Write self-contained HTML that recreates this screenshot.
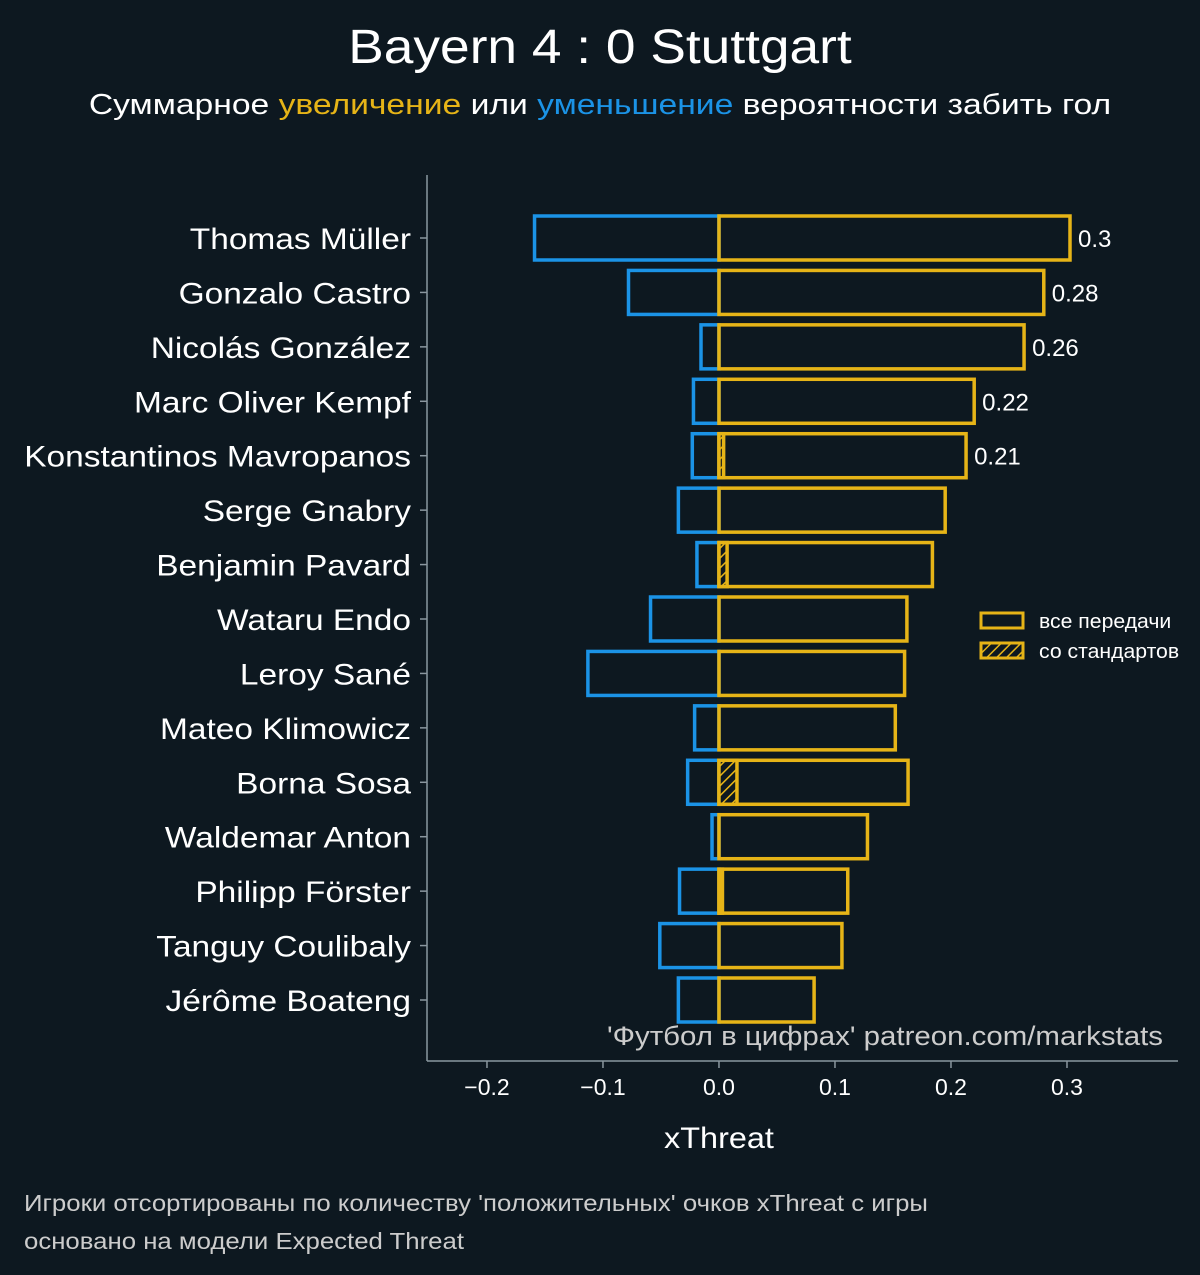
<!DOCTYPE html>
<html><head><meta charset="utf-8"><style>
body{margin:0;background:#0d1820;}
svg{display:block;font-family:"Liberation Sans","DejaVu Sans",sans-serif;}
</style></head><body>
<svg id="c" width="1200" height="1275">
<rect width="1200" height="1275" fill="#0d1820"/>
<text x="600" y="63" fill="#fff" font-size="48" text-anchor="middle" data-s="1.11">Bayern 4 : 0 Stuttgart</text>
<text x="600" y="114" fill="#fff" font-size="29" text-anchor="middle" data-s="1.16">Суммарное <tspan fill="#e6b417">увеличение</tspan> или <tspan fill="#1b93e6">уменьшение</tspan> вероятности забить гол</text>
<g id="plot"></g>
<text x="719" y="1148" fill="#fff" font-size="30" text-anchor="middle" data-s="1.08">xThreat</text>
<text x="1163" y="1045" fill="#ccc" font-size="27" text-anchor="end" data-s="1.09">'Футбол в цифрах' patreon.com/markstats</text>
<text x="24" y="1211" fill="#ccc" font-size="23" data-s="1.12">Игроки отсортированы по количеству 'положительных' очков xThreat с игры</text>
<text x="24" y="1249" fill="#ccc" font-size="23" data-s="1.12">основано на модели Expected Threat</text>
<defs><pattern id="hatch" width="7" height="7" patternUnits="userSpaceOnUse" patternTransform="rotate(45)"><rect width="7" height="7" fill="#0d1820"/><line x1="0" y1="0" x2="0" y2="7" stroke="#e6b417" stroke-width="3"/></pattern></defs>
<g>
<rect x="981" y="613" width="42" height="15" fill="none" stroke="#e6b417" stroke-width="3"/>
<text x="1039" y="628" fill="#fff" font-size="20" data-s="1.06">все передачи</text>
<rect x="981" y="643" width="42" height="15" fill="url(#hatch)" stroke="#e6b417" stroke-width="3"/>
<text x="1039" y="658" fill="#fff" font-size="20" data-s="1.06">со стандартов</text>
</g>
</svg>
<script>
const players=["Thomas Müller","Gonzalo Castro","Nicolás González","Marc Oliver Kempf","Konstantinos Mavropanos","Serge Gnabry","Benjamin Pavard","Wataru Endo","Leroy Sané","Mateo Klimowicz","Borna Sosa","Waldemar Anton","Philipp Förster","Tanguy Coulibaly","Jérôme Boateng"];
const positive=[0.3026,0.280,0.263,0.220,0.213,0.195,0.184,0.162,0.160,0.152,0.163,0.128,0.111,0.106,0.082];
const negative=[-0.159,-0.078,-0.0155,-0.022,-0.023,-0.035,-0.019,-0.059,-0.113,-0.021,-0.027,-0.006,-0.034,-0.051,-0.035];
const setPiece=[0,0,0,0,0.004,0,0.007,0,0,0,0.0155,0,0.003,0,0];
const valueLabels=["0.3","0.28","0.26","0.22","0.21","","","","","","","","","",""];
const ticks=[-0.2,-0.1,0,0.1,0.2,0.3];
const tickLabels=["−0.2","−0.1","0.0","0.1","0.2","0.3"];
const NS="http://www.w3.org/2000/svg",g=document.getElementById('plot');
const xMin=-0.2517,xMax=0.3957,L=427,R=1178;
const x=v=>L+(v-xMin)/(xMax-xMin)*(R-L);
const y=i=>238+i*(762/14);
const bh=44;
function mk(t,a){const e=document.createElementNS(NS,t);for(const k in a)e.setAttribute(k,a[k]);g.appendChild(e);return e;}
let e=mk('line',{x1:L,y1:175,x2:L,y2:1061,stroke:'#8a979f','stroke-width':1.5});

e=mk('line',{x1:L,y1:1061,x2:R,y2:1061,stroke:'#8a979f','stroke-width':1.5});

ticks.forEach((t,i)=>{
 e=mk('line',{x1:x(t),y1:1061,x2:x(t),y2:1068,stroke:'#8a979f','stroke-width':1.5});
 
 e=mk('text',{x:x(t),y:1095,fill:'#fff','font-size':23,'text-anchor':'middle'});e.textContent=tickLabels[i];
 
});
players.forEach((p,i)=>{
 const cy=y(i);
 e=mk('line',{x1:L-7,y1:cy,x2:L,y2:cy,stroke:'#8a979f','stroke-width':1.5});
 
 e=mk('text',{x:411,y:cy+11,fill:'#fff','font-size':30,'text-anchor':'end','data-s':'1.115'});e.textContent=p;
 
 e=mk('rect',{x:x(negative[i]),y:cy-bh/2,width:x(0)-x(negative[i]),height:bh,fill:'none',stroke:'#1b93e6','stroke-width':3.5});
 
 e=mk('rect',{x:x(0),y:cy-bh/2,width:x(positive[i])-x(0),height:bh,fill:'none',stroke:'#e6b417','stroke-width':3.5});
 
 if(setPiece[i]>0){
  e=mk('rect',{x:x(0),y:cy-bh/2,width:x(setPiece[i])-x(0),height:bh,fill:'url(#hatch)',stroke:'#e6b417','stroke-width':3.5});
  
 }
 if(valueLabels[i]){
  e=mk('text',{x:x(positive[i])+8,y:cy+9,fill:'#fff','font-size':24});e.textContent=valueLabels[i];
  
 }
});
document.querySelectorAll('text[data-s]').forEach(t=>{
 const w=t.getComputedTextLength();
 t.setAttribute('textLength',w*parseFloat(t.getAttribute('data-s')));
 t.setAttribute('lengthAdjust','spacingAndGlyphs');
});
</script>
</body></html>
